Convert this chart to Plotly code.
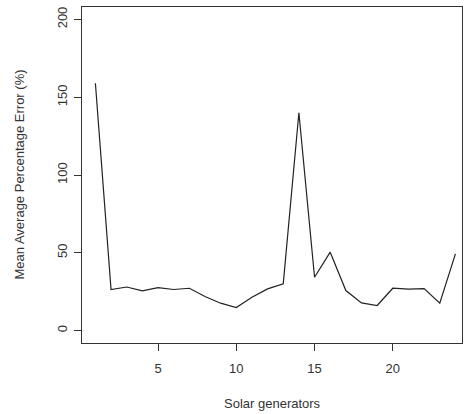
import plotly.graph_objects as go

generators = list(range(1, 25))
mape = [159, 26.4, 28, 25.5, 27.6, 26.4, 27.2, 21.9, 17.6, 14.8, 21.4, 26.8,
        30, 140, 34.3, 50.4, 25.7, 17.8, 16.1, 27.2, 26.6, 27, 17.6, 49.3]
x_ticks = [5, 10, 15, 20]
y_ticks = [0, 50, 100, 150, 200]

font = "Liberation Sans, Arial, sans-serif"

fig = go.Figure()
fig.add_trace(go.Scatter(x=generators, y=mape, mode="lines",
                         line=dict(color="#222222", width=1.2),
                         showlegend=False, hoverinfo="skip"))

fig.update_layout(
    width=464, height=414,
    margin=dict(l=82, r=2, t=7, b=71, autoexpand=False),
    paper_bgcolor="white", plot_bgcolor="white",
    font=dict(family=font, size=13, color="#333333"),
)
fig.update_xaxes(range=[0.144, 24.42], tickvals=x_ticks, ticks="outside", ticklen=7,
                 tickcolor="#333333", showgrid=False, zeroline=False,
                 showline=True, linecolor="#333333", linewidth=1, mirror=True,
                 ticklabelstandoff=6,
                 tickfont=dict(family=font, size=13, color="#333333"))
fig.update_yaxes(range=[-8, 208], tickvals=y_ticks, ticks="outside", ticklen=7,
                 tickcolor="#333333", showgrid=False, zeroline=False,
                 showline=True, linecolor="#333333", linewidth=1, mirror=True,
                 tickangle=-90, ticklabelstandoff=2,
                 tickfont=dict(family=font, size=13, color="#333333"))

fig.add_annotation(text="Solar generators", xref="paper", yref="paper",
                   x=0.5, y=0, yshift=-70, showarrow=False,
                   font=dict(family=font, size=13, color="#333333"))
fig.add_annotation(text="Mean Average Percentage Error (%)", xref="paper", yref="paper",
                   x=0, xshift=-73, y=0.5, textangle=-90, showarrow=False,
                   font=dict(family=font, size=13, color="#333333"))

fig.write_html("out.html", config={"displayModeBar": False},
               post_script="document.body.style.margin='0';document.body.style.overflow='hidden';")
